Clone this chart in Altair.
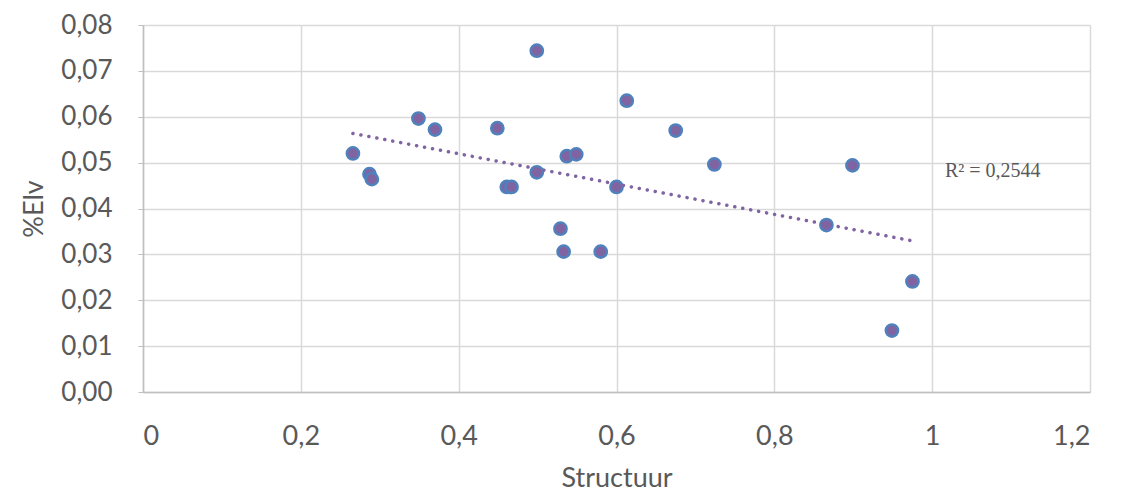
import altair as alt
import pandas as pd

structuur = [0.266, 0.287, 0.290, 0.349, 0.370, 0.449, 0.499, 0.499, 0.461, 0.467,
             0.529, 0.533, 0.537, 0.549, 0.580, 0.600, 0.613, 0.675, 0.724, 0.866,
             0.899, 0.949, 0.975]
elv = [0.0520, 0.0475, 0.0464, 0.0596, 0.0572, 0.0575, 0.0744, 0.0479, 0.0447, 0.0447,
       0.0356, 0.0306, 0.0514, 0.0518, 0.0306, 0.0447, 0.0635, 0.0570, 0.0496, 0.0364,
       0.0494, 0.0134, 0.0241]
x_ticks = [0, 0.2, 0.4, 0.6, 0.8, 1.0, 1.2]
y_ticks = [0, 0.01, 0.02, 0.03, 0.04, 0.05, 0.06, 0.07, 0.08]
r2_text = "R² = 0,2544"

df = pd.DataFrame({"Structuur": structuur, "Elv": elv})

FONT = "Lato"
LABEL_COLOR = "#595959"
GRID = "#D9D9D9"

xenc = alt.X("Structuur:Q", scale=alt.Scale(domain=[0, 1.2], nice=False, zero=False),
             axis=alt.Axis(values=x_ticks, title="Structuur",
                           labelExpr="replace(format(datum.value, '.1~f'), '.', ',')",
                           grid=True, gridColor=GRID, gridWidth=1.5,
                           domainColor="#BFBFBF", domainWidth=1.5, ticks=False,
                           labelPadding=31, titlePadding=16,
                           labelFont=FONT, labelFontSize=27, labelColor=LABEL_COLOR,
                           titleFont=FONT, titleFontSize=27, titleColor=LABEL_COLOR,
                           titleFontWeight="normal"))
yenc = alt.Y("Elv:Q", scale=alt.Scale(domain=[0, 0.08], nice=False, zero=False),
             axis=alt.Axis(values=y_ticks, title="%Elv",
                           labelExpr="replace(format(datum.value, '.2f'), '.', ',')",
                           grid=True, gridColor=GRID, gridWidth=1.5,
                           domainColor="#BFBFBF", domainWidth=1.5,
                           ticks=True, tickColor="#BFBFBF", tickSize=5,
                           labelPadding=26, titlePadding=12,
                           labelFont=FONT, labelFontSize=26, labelColor=LABEL_COLOR,
                           titleFont=FONT, titleFontSize=27, titleColor=LABEL_COLOR,
                           titleFontWeight="normal"))

points = alt.Chart(df).mark_point(
    filled=True, shape="circle", size=150, fill="#8064A2", stroke="#4F81BD",
    strokeWidth=2.5, opacity=1
).encode(x=xenc, y=yenc)

trend = alt.Chart(df).transform_regression("Structuur", "Elv").mark_line(
    color="#8064A2", strokeWidth=3.5, strokeDash=[0.1, 8], strokeCap="round"
).encode(x="Structuur:Q", y="Elv:Q")

label = alt.Chart(pd.DataFrame({"t": [r2_text]})).mark_text(
    font="Liberation Serif", fontSize=20, color=LABEL_COLOR, align="left", baseline="middle"
).encode(text="t:N", x=alt.value(802), y=alt.value(146))

chart = alt.layer(points, trend, label).properties(
    width=947, height=367,
    autosize=alt.AutoSizeParams(type="none"),
    padding={"left": 135, "top": 17, "right": 20, "bottom": 104},
).configure_view(stroke=None)

chart.save("out.html", embed_options={"renderer": "svg", "actions": False})
